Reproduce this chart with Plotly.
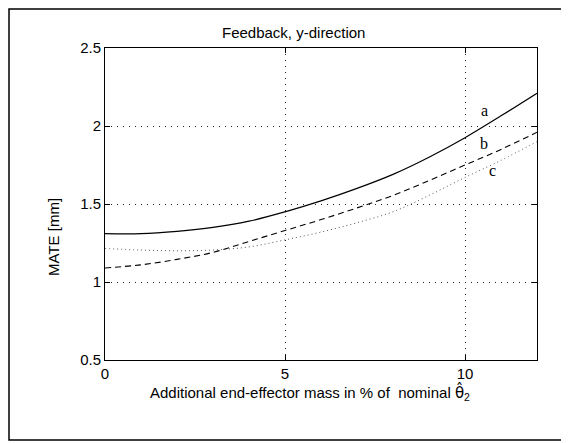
import plotly.graph_objects as go

x_vals = [0, 1, 2, 3, 4, 5, 6, 7, 8, 9, 10, 11, 12]
curve_a = [1.31, 1.31, 1.325, 1.35, 1.39, 1.45, 1.52, 1.60, 1.69, 1.80, 1.925, 2.065, 2.21]
curve_b = [1.09, 1.11, 1.145, 1.19, 1.26, 1.33, 1.40, 1.475, 1.555, 1.65, 1.75, 1.85, 1.96]
curve_c = [1.215, 1.205, 1.20, 1.205, 1.225, 1.27, 1.32, 1.38, 1.45, 1.555, 1.67, 1.78, 1.90]
x_ticks = [0, 5, 10]
y_ticks = [0.5, 1, 1.5, 2, 2.5]
curve_labels = ["a", "b", "c"]
label_pos = [(10.54, 2.10), (10.54, 1.885), (10.77, 1.713)]

# page body has an 8px margin; target pixel positions are measured on the screen
OFF = 8
W, H = 569, 443
L, T = 105 - OFF, 48 - OFF
pw, ph = 432, 312
R, B = W - L - pw, H - T - ph

def px(xp):
    return (xp - OFF - L) / pw

def py(yp):
    return (T + ph - (yp - OFF)) / ph

fig = go.Figure()
fig.add_trace(go.Scatter(x=x_vals, y=curve_a, mode="lines", line=dict(color="black", width=1.2, shape="spline"), showlegend=False))
fig.add_trace(go.Scatter(x=x_vals, y=curve_b, mode="lines", line=dict(color="black", width=1.1, dash="6px,4px", shape="spline"), showlegend=False))
fig.add_trace(go.Scatter(x=x_vals, y=curve_c, mode="lines", line=dict(color="#555555", width=1, dash="1px,3px", shape="spline"), showlegend=False))

font_sans = "Liberation Sans, Arial, sans-serif"
annotations = []
for lab, (lx, ly) in zip(curve_labels, label_pos):
    annotations.append(dict(x=lx, y=ly, xref="x", yref="y", text=lab, showarrow=False,
                            xanchor="center", yanchor="middle",
                            font=dict(family="Liberation Serif, Times New Roman, serif", size=16, color="black")))
annotations.append(dict(x=px(293), y=py(33), xref="paper", yref="paper", text="Feedback, y-direction",
                        showarrow=False, xanchor="center", yanchor="middle",
                        font=dict(family=font_sans, size=15, color="black")))
annotations.append(dict(x=px(310), y=py(392), xref="paper", yref="paper",
                        text="Additional end-effector mass in % of  nominal <span style=\"font-family:'DejaVu Sans'\">θ\u0302</span><sub>2</sub>",
                        showarrow=False, xanchor="center", yanchor="middle",
                        font=dict(family=font_sans, size=15, color="black")))
annotations.append(dict(x=px(53), y=py(237), xref="paper", yref="paper", text="MATE [mm]", textangle=-90,
                        showarrow=False, xanchor="center", yanchor="middle",
                        font=dict(family=font_sans, size=15, color="black")))

axis_common = dict(showline=True, linecolor="black", linewidth=1, mirror="ticks", ticks="inside",
                   ticklen=5, tickcolor="black", showgrid=True, gridcolor="#222222", griddash="1px,5px",
                   gridwidth=1, zeroline=False, tickfont=dict(family=font_sans, size=15, color="black"))

# outer frame, in figure pixels (left/top clamped to the figure's edge)
fx0, fx1 = 1, W + 20
fy0, fy1 = 1, 432

fig.update_layout(
    width=W, height=H, margin=dict(l=L, r=R, t=T, b=B),
    paper_bgcolor="white", plot_bgcolor="white",
    xaxis=dict(range=[0, 12], tickvals=x_ticks, **axis_common),
    yaxis=dict(range=[0.5, 2.5], tickvals=y_ticks, ticktext=["0.5", "1", "1.5", "2", "2.5"], **axis_common),
    annotations=annotations,
    shapes=[dict(type="rect", xref="paper", yref="paper",
                 x0=(fx0 - L) / pw, x1=(fx1 - L) / pw,
                 y0=(T + ph - fy1) / ph, y1=(T + ph - fy0) / ph,
                 line=dict(color="black", width=1.5), fillcolor="rgba(0,0,0,0)", layer="below")],
)
fig.write_html("out.html")
